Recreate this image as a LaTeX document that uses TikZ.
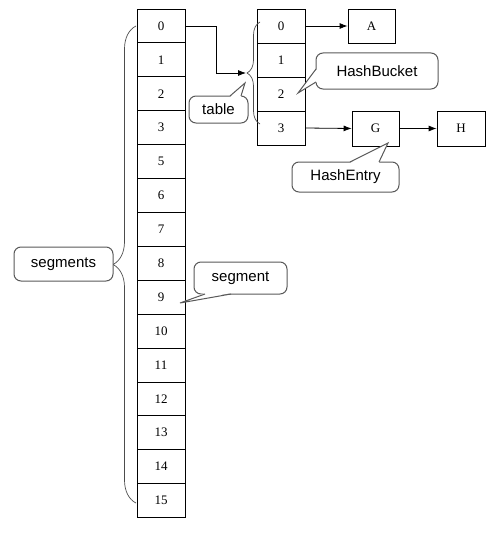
\documentclass[tikz,border=0pt]{standalone}
\usepackage{fontspec}
\newfontfamily\cellfont{Liberation Serif}
\newfontfamily\notefont{Liberation Sans}
\usetikzlibrary{arrows.meta}
\usetikzlibrary{decorations.pathreplacing}

\tikzset{
  cell/.style={draw, line width=0.8pt, minimum width=48pt, minimum height=34pt, inner sep=0pt, font=\cellfont\fontsize{13}{13}\selectfont},
  note/.style={draw=gray!70!black, line width=1pt, rounded corners=7pt, fill=white, inner sep=0pt, font=\notefont\fontsize{15}{15}\selectfont},
  tail/.style={draw=gray!70!black, line width=1pt},
  link/.style={-{Latex[length=8pt,width=6pt]}, line width=0.8pt},
  curly/.style={decorate, decoration={brace, amplitude=#1}, draw=gray!60!black, line width=0.7pt},
}

\begin{document}
\begin{tikzpicture}[x=1pt, y=-1pt]
                \useasboundingbox (0,0) rectangle (500,543);
                % segments
                \foreach \lbl [count=\i from 0] in {0,1,2,3,5,6,7,8,9,10,11,12,13,14,15}{\node[cell, minimum height=33.9pt] (s\i) at (161, 25.95+33.9*\i) {\lbl};}
                % table
                \foreach \i in {0,...,3}{\node[cell] (t\i) at (281, 26+34*\i) {\i};}
                % entries
                \node[cell, minimum width=47pt] (a) at (371.5, 26) {A};
                \node[cell, minimum width=47pt, minimum height=35pt] (g) at (375.5, 128.5) {G};
                \node[cell, minimum height=35pt] (h) at (461, 128.5) {H};
                % braces
                \draw[curly=23pt] (136,503) -- (136,26);
                \draw[curly=13pt] (260,124) -- (260,22);
                \coordinate (knot) at (246,73);
                % links
                \draw[link] (s0.east) -- ++(31,0) |- (knot);
                \draw[link] (t0.east) -- (a.west);
                \draw[link] (t3.east) -- (g.west);
                \draw[link] (g.east) -- (h.west);
                % notes
                \node[note, minimum width=99pt, minimum height=34pt] (segs) at (63.5,264) {segments};
                \node[note, minimum width=59pt, minimum height=27pt] (tbl) at (218.5,109.5) {table};
                \fill[white] (230,97) -- (245,83) -- (241,97) -- cycle;
                \draw[tail] (230,96) -- (245,83) -- (241,96);
                \node[note, minimum width=122pt, minimum height=36pt] (bucket) at (377,71) {HashBucket};
                \fill[white] (317,69) -- (298,93) -- (317,82) -- cycle;
                \draw[tail] (316,69) -- (298,93) -- (316,82);
                \node[note, minimum width=107pt, minimum height=30pt] (entry) at (345.5,177) {HashEntry};
                \fill[white] (350,163) -- (388,143) -- (379,163) -- cycle;
                \draw[tail] (350,162) -- (388,143) -- (379,162);
                \node[note, minimum width=93pt, minimum height=32pt] (seg) at (240.5,278) {segment};
                \fill[white] (205,293) -- (180,303) -- (231,293) -- cycle;
                \draw[tail] (205,294) -- (180,303) -- (231,294);
\end{tikzpicture}
\end{document}
